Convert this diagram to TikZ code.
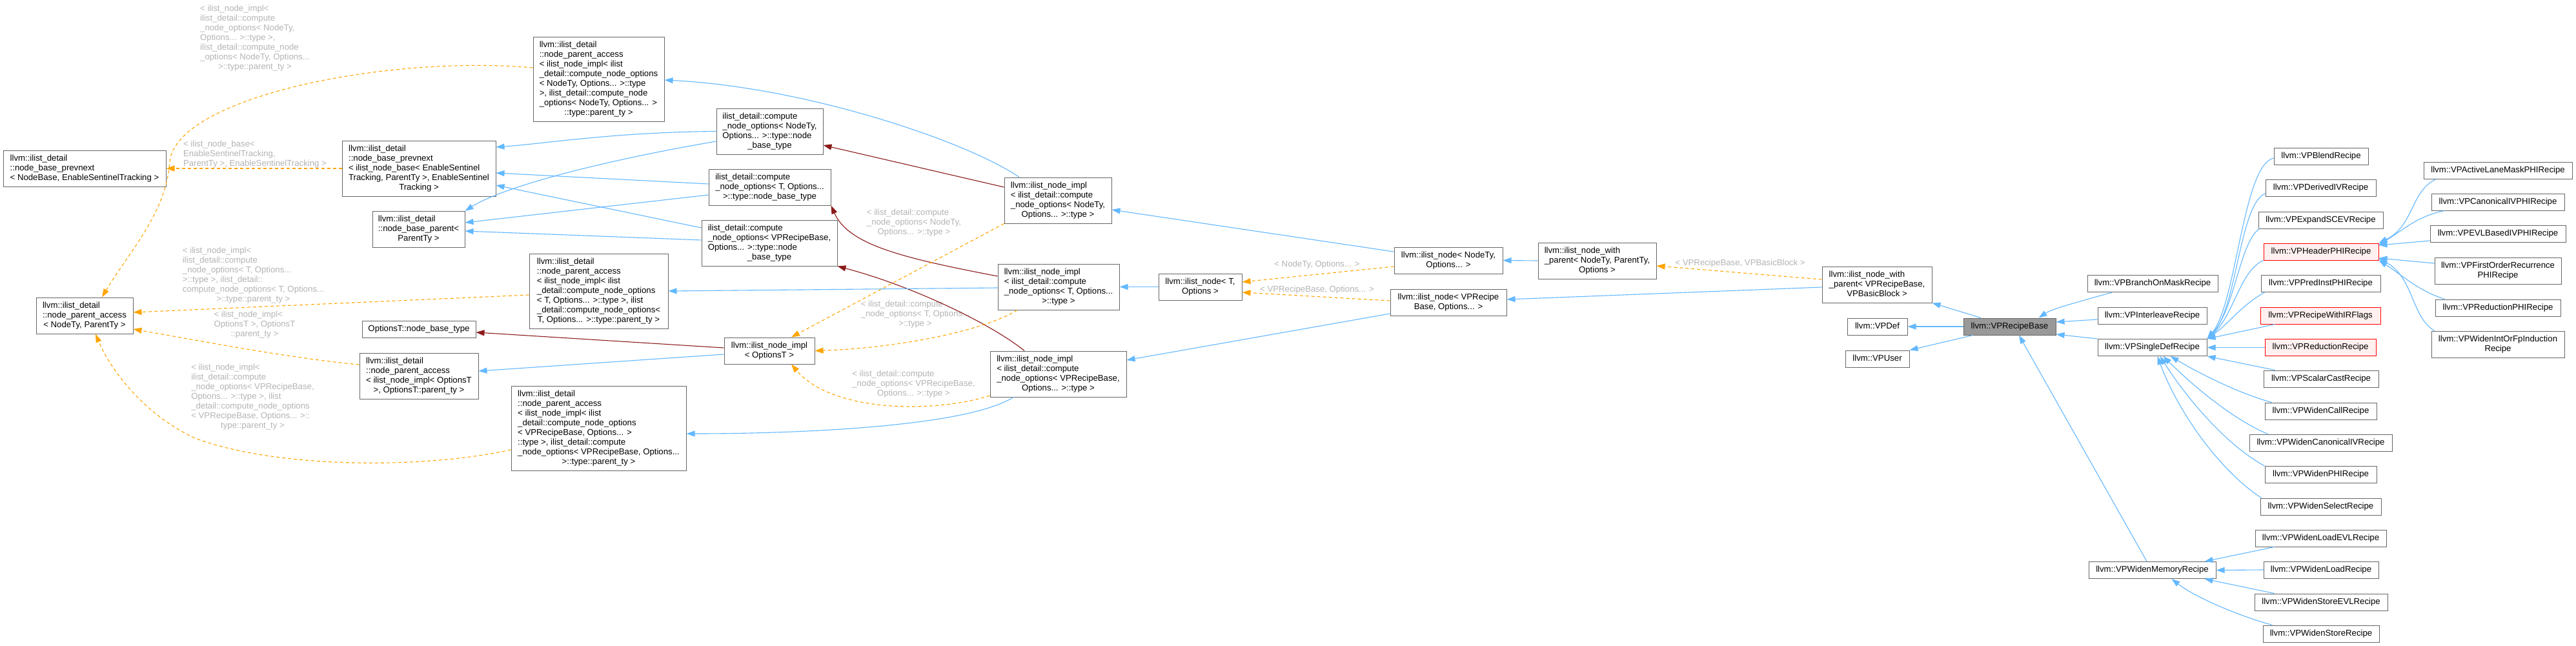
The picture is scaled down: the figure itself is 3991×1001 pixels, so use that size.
\documentclass[tikz,border=0pt]{standalone}
\usepackage{fontspec}
\setmainfont{Liberation Sans}
\usetikzlibrary{arrows.meta}
\definecolor{edgeblue}{HTML}{63B8FF}
\definecolor{edgeorange}{HTML}{FFA500}
\definecolor{edgered}{HTML}{8B1A1A}
\definecolor{boxline}{HTML}{666666}
\definecolor{basefill}{HTML}{999999}
\definecolor{redfill}{HTML}{FFF0F0}
\definecolor{labelgray}{HTML}{B4B4B4}
\newcommand{\dfont}{\fontsize{13.2}{15}\selectfont}
\newcommand{\doxl}[2]{\begin{tabular}{@{}l@{}}#1\\\multicolumn{1}{@{}c@{}}{#2}\end{tabular}}
\newcommand{\doxc}[1]{\begin{tabular}{@{}c@{}}#1\end{tabular}}

\begin{document}
\begin{tikzpicture}[x=1pt, y=-1pt,
  box/.style={draw=boxline, fill=white, line width=1pt, inner xsep=0pt, inner ysep=5.5pt, font=\dfont},
  redbox/.style={box, draw=red, fill=redfill},
  lbl/.style={font=\dfont, text=labelgray, inner sep=0pt},
  tip/.style={-{Triangle[length=13pt, width=9pt]}},
  inh/.style={tip, draw=edgeblue, line width=1.1pt},
  tmpl/.style={tip, draw=edgeorange, line width=1.1pt, dash pattern=on 5pt off 4pt},
  usage/.style={tip, draw=edgered, line width=1.1pt}]
  \path[use as bounding box, fill=white] (0,0) rectangle (3991,1001);

  % ilist detail classes
  \node[box, minimum width=252pt] (pvNB) at (131,261) {\doxl{llvm::ilist\_detail\\::node\_base\_prevnext}{< NodeBase, EnableSentinelTracking >}};
  \node[box, minimum width=238pt] (pvIB) at (649,261) {\doxl{llvm::ilist\_detail\\::node\_base\_prevnext\\< ilist\_node\_base< EnableSentinel\\Tracking, ParentTy >, EnableSentinel}{Tracking >}};
  \node[box, minimum width=143pt] (bparent) at (648.5,355.5) {\doxl{llvm::ilist\_detail\\::node\_base\_parent<}{ParentTy >}};
  \node[box, minimum width=150pt] (paNP) at (131,489) {\doxl{llvm::ilist\_detail\\::node\_parent\_access}{< NodeTy, ParentTy >}};
  \node[box, minimum width=176pt] (obt) at (649,510.5) {\doxc{OptionsT::node\_base\_type}};
  \node[box, minimum width=184pt] (paO) at (649,582.5) {\doxl{llvm::ilist\_detail\\::node\_parent\_access\\< ilist\_node\_impl< OptionsT}{>, OptionsT::parent\_ty >}};
  \node[box, minimum width=203pt] (paNT) at (927.5,122.5) {\doxl{llvm::ilist\_detail\\::node\_parent\_access\\< ilist\_node\_impl< ilist\\\_detail::compute\_node\_options\\< NodeTy, Options... >::type\\>, ilist\_detail::compute\_node\\\_options< NodeTy, Options... >}{::type::parent\_ty >}};
  \node[box, minimum width=215pt] (paT) at (927.5,451) {\doxl{llvm::ilist\_detail\\::node\_parent\_access\\< ilist\_node\_impl< ilist\\\_detail::compute\_node\_options\\< T, Options... >::type >, ilist\\\_detail::compute\_node\_options<}{T, Options... >::type::parent\_ty >}};
  \node[box, minimum width=271pt] (paVP) at (927.5,663.5) {\doxl{llvm::ilist\_detail\\::node\_parent\_access\\< ilist\_node\_impl< ilist\\\_detail::compute\_node\_options\\< VPRecipeBase, Options... >\\::type >, ilist\_detail::compute\\\_node\_options< VPRecipeBase, Options...}{>::type::parent\_ty >}};
  \node[box, minimum width=165pt] (nbNT) at (1192.5,203.5) {\doxl{ilist\_detail::compute\\\_node\_options< NodeTy,\\Options... >::type::node}{\_base\_type}};
  \node[box, minimum width=189pt] (nbT) at (1192.5,290) {\doxl{ilist\_detail::compute\\\_node\_options< T, Options...}{>::type::node\_base\_type}};
  \node[box, minimum width=210pt] (nbVP) at (1192,376.5) {\doxl{ilist\_detail::compute\\\_node\_options< VPRecipeBase,\\Options... >::type::node}{\_base\_type}};
  \node[box, minimum width=140pt] (implO) at (1192,543.5) {\doxl{llvm::ilist\_node\_impl}{< OptionsT >}};

  % ilist nodes
  \node[box, minimum width=166pt] (implNT) at (1639,310.5) {\doxl{llvm::ilist\_node\_impl\\< ilist\_detail::compute\\\_node\_options< NodeTy,}{Options... >::type >}};
  \node[box, minimum width=188pt] (implT) at (1640,444.5) {\doxl{llvm::ilist\_node\_impl\\< ilist\_detail::compute\\\_node\_options< T, Options...}{>::type >}};
  \node[box, minimum width=211pt] (implVP) at (1639.5,579.5) {\doxl{llvm::ilist\_node\_impl\\< ilist\_detail::compute\\\_node\_options< VPRecipeBase,}{Options... >::type >}};
  \node[box, minimum width=129pt] (nodeT) at (1859.5,444.5) {\doxl{llvm::ilist\_node< T,}{Options >}};
  \node[box, minimum width=168pt] (nodeNT) at (2244,403.5) {\doxl{llvm::ilist\_node< NodeTy,}{Options... >}};
  \node[box, minimum width=180pt] (nodeVP) at (2244,469) {\doxl{llvm::ilist\_node< VPRecipe}{Base, Options... >}};
  \node[box, minimum width=183pt] (nwpNT) at (2474.5,404) {\doxl{llvm::ilist\_node\_with\\\_parent< NodeTy, ParentTy,}{Options >}};
  \node[box, minimum width=170pt] (nwpVP) at (2908,441) {\doxl{llvm::ilist\_node\_with\\\_parent< VPRecipeBase,}{VPBasicBlock >}};

  % recipes
  \node[box, fill=basefill, minimum width=143pt] (base) at (3113.5,506) {\doxc{llvm::VPRecipeBase}};
  \node[box, minimum width=93pt] (vpdef) at (2908.5,506) {\doxc{llvm::VPDef}};
  \node[box, minimum width=99pt] (vpuser) at (2908.5,556) {\doxc{llvm::VPUser}};
  \node[box, minimum width=202pt] (branch) at (3335,439.5) {\doxc{llvm::VPBranchOnMaskRecipe}};
  \node[box, minimum width=169pt] (interleave) at (3334.5,489) {\doxc{llvm::VPInterleaveRecipe}};
  \node[box, minimum width=169pt] (single) at (3334.5,538.5) {\doxc{llvm::VPSingleDefRecipe}};
  \node[box, minimum width=197pt] (widenmem) at (3334.5,883.5) {\doxc{llvm::VPWidenMemoryRecipe}};
  \node[box, minimum width=146pt] (blend) at (3596,242) {\doxc{llvm::VPBlendRecipe}};
  \node[box, minimum width=171pt] (derived) at (3595.5,291.5) {\doxc{llvm::VPDerivedIVRecipe}};
  \node[box, minimum width=193pt] (expand) at (3595.5,341) {\doxc{llvm::VPExpandSCEVRecipe}};
  \node[redbox, minimum width=178pt] (header) at (3596,390) {\doxc{llvm::VPHeaderPHIRecipe}};
  \node[box, minimum width=185pt] (predinst) at (3595.5,439.5) {\doxc{llvm::VPPredInstPHIRecipe}};
  \node[redbox, minimum width=186pt] (irflags) at (3595,489) {\doxc{llvm::VPRecipeWithIRFlags}};
  \node[redbox, minimum width=172pt] (reduction) at (3595,538.5) {\doxc{llvm::VPReductionRecipe}};
  \node[box, minimum width=178pt] (scalarcast) at (3596,587) {\doxc{llvm::VPScalarCastRecipe}};
  \node[box, minimum width=173pt] (widencall) at (3595.5,637) {\doxc{llvm::VPWidenCallRecipe}};
  \node[box, minimum width=221pt] (widencaniv) at (3595.5,686) {\doxc{llvm::VPWidenCanonicalIVRecipe}};
  \node[box, minimum width=173pt] (widenphi) at (3595.5,735.5) {\doxc{llvm::VPWidenPHIRecipe}};
  \node[box, minimum width=187pt] (widenselect) at (3595.5,785) {\doxc{llvm::VPWidenSelectRecipe}};
  \node[box, minimum width=203pt] (loadevl) at (3595.5,834) {\doxc{llvm::VPWidenLoadEVLRecipe}};
  \node[box, minimum width=178pt] (load) at (3596,883) {\doxc{llvm::VPWidenLoadRecipe}};
  \node[box, minimum width=206pt] (storeevl) at (3596,933) {\doxc{llvm::VPWidenStoreEVLRecipe}};
  \node[box, minimum width=180pt] (store) at (3596,982) {\doxc{llvm::VPWidenStoreRecipe}};
  \node[box, minimum width=230pt] (activelane) at (3870,264) {\doxc{llvm::VPActiveLaneMaskPHIRecipe}};
  \node[box, minimum width=206pt] (canoniv) at (3870,313) {\doxc{llvm::VPCanonicalIVPHIRecipe}};
  \node[box, minimum width=210pt] (evl) at (3870,362) {\doxc{llvm::VPEVLBasedIVPHIRecipe}};
  \node[box, minimum width=196pt] (forphi) at (3870,419.5) {\doxl{llvm::VPFirstOrderRecurrence}{PHIRecipe}};
  \node[box, minimum width=194pt] (redphi) at (3870,477) {\doxc{llvm::VPReductionPHIRecipe}};
  \node[box, minimum width=206pt] (intorfp) at (3870,533.5) {\doxl{llvm::VPWidenIntOrFpInduction}{Recipe}};

  % template arguments
  \node[lbl] (l1) at (395,59) {\doxl{< ilist\_node\_impl<\\ilist\_detail::compute\\\_node\_options< NodeTy,\\Options... >::type >,\\ilist\_detail::compute\_node\\\_options< NodeTy, Options...}{>::type::parent\_ty >}};
  \node[lbl] (l2) at (395,239) {\doxl{< ilist\_node\_base<\\EnableSentinelTracking,}{ParentTy >, EnableSentinelTracking >}};
  \node[lbl] (l3) at (392.5,426.5) {\doxl{< ilist\_node\_impl<\\ilist\_detail::compute\\\_node\_options< T, Options...\\>::type >, ilist\_detail::\\compute\_node\_options< T, Options...}{>::type::parent\_ty >}};
  \node[lbl] (l4) at (394.5,503) {\doxl{< ilist\_node\_impl<\\OptionsT >, OptionsT}{::parent\_ty >}};
  \node[lbl] (l5) at (391.5,615) {\doxl{< ilist\_node\_impl<\\ilist\_detail::compute\\\_node\_options< VPRecipeBase,\\Options... >::type >, ilist\\\_detail::compute\_node\_options\\< VPRecipeBase, Options... >::}{type::parent\_ty >}};
  \node[lbl] (l6) at (1416,345) {\doxl{< ilist\_detail::compute\\\_node\_options< NodeTy,}{Options... >::type >}};
  \node[lbl] (l7) at (1418,487) {\doxl{< ilist\_detail::compute\\\_node\_options< T, Options...}{>::type >}};
  \node[lbl] (l8) at (1415.5,595) {\doxl{< ilist\_detail::compute\\\_node\_options< VPRecipeBase,}{Options... >::type >}};
  \node[lbl] (l9) at (2040.5,410) {\doxc{< NodeTy, Options... >}};
  \node[lbl] (l10) at (2040.5,449) {\doxc{< VPRecipeBase, Options... >}};
  \node[lbl] (l11) at (2696,408) {\doxc{< VPRecipeBase, VPBasicBlock >}};

  % left part
  \draw[tmpl] (pvIB.west) -- (pvNB.east);
  \draw[tmpl] ([yshift=17.5pt]paNT.west) .. controls (600,85) and (275,150) .. (263,250) .. controls (258,330) and (200,390) .. ([xshift=27pt]paNP.north);
  \draw[tmpl] ([yshift=-6pt]paT.west) -- ([yshift=5pt]paNP.east);
  \draw[tmpl] ([yshift=17.5pt]paO.west) .. controls (450,555) and (320,530) .. ([yshift=-21pt]paNP.east);
  \draw[tmpl] ([yshift=-33.5pt]paVP.west) .. controls (650,728) and (420,725) .. (300,678) .. controls (220,640) and (170,570) .. ([xshift=17pt]paNP.south);
  \draw[inh] (nbNT.west) .. controls (950,205) and (850,222) .. ([yshift=33pt]pvIB.east);
  \draw[inh] ([yshift=-15.5pt]nbNT.west) .. controls (900,255) and (770,295) .. (bparent.north east);
  \draw[inh] ([yshift=5pt]nbT.west) -- ([yshift=-7pt]pvIB.east);
  \draw[inh] ([yshift=-12pt]nbT.west) -- ([yshift=10.5pt]bparent.east);
  \draw[inh] ([yshift=23.5pt]nbVP.west) -- ([yshift=-26pt]pvIB.east);
  \draw[inh] ([yshift=4.5pt]nbVP.west) -- ([yshift=-2.5pt]bparent.east);

  % middle part
  \draw[inh] ([xshift=-60pt]implNT.north) .. controls (1500,220) and (1250,135) .. ([yshift=-1.5pt]paNT.east);
  \draw[usage] ([yshift=20.5pt]implNT.west) -- ([yshift=-21.5pt]nbNT.east);
  \draw[usage] ([yshift=16.5pt]implT.west) .. controls (1400,400) and (1315,380) .. (nbT.south east);
  \draw[usage] ([xshift=-52.5pt]implVP.north) .. controls (1540,505) and (1420,445) .. (nbVP.south east);
  \draw[inh] ([yshift=-1.5pt]implT.west) -- (paT.east);
  \draw[tmpl] (implNT.south west) -- ([xshift=34pt]implO.north);
  \draw[tmpl] ([xshift=-64pt]implT.south) .. controls (1520,515) and (1380,540) .. (implO.east);
  \draw[tmpl] ([yshift=-33.5pt]implVP.west) .. controls (1450,640) and (1290,640) .. ([xshift=34pt]implO.south);
  \draw[inh] ([xshift=-69.5pt]implVP.south) .. controls (1500,660) and (1250,672) .. ([yshift=-8.5pt]paVP.east);
  \draw[usage] ([yshift=4.5pt]implO.west) -- ([yshift=-4.5pt]obt.east);
  \draw[inh] ([yshift=-5.5pt]implO.west) -- ([yshift=7.5pt]paO.east);
  \draw[inh] ([yshift=13.5pt]nodeNT.west) -- ([yshift=-14.5pt]implNT.east);
  \draw[tmpl] ([yshift=-9.5pt]nodeNT.west) -- ([yshift=7.5pt]nodeT.east);
  \draw[tmpl] ([yshift=3pt]nodeVP.west) -- ([yshift=-8.5pt]nodeT.east);
  \draw[inh] (nodeT.west) -- (implT.east);
  \draw[inh] ([yshift=-17pt]nodeVP.west) -- ([yshift=21.5pt]implVP.east);
  \draw[inh] (nwpNT.west) -- (nodeNT.east);
  \draw[tmpl] ([yshift=8pt]nwpVP.west) -- ([yshift=-8pt]nwpNT.east);
  \draw[inh] ([yshift=-4pt]nwpVP.west) -- ([yshift=5pt]nodeVP.east);

  % right part
  \draw[inh] ([xshift=-44.5pt]base.north) -- (nwpVP.south east);
  \draw[inh] (base.west) -- (vpdef.east);
  \draw[inh] ([xshift=15pt]base.south west) -- (vpuser.north east);
  \draw[inh] ([xshift=39pt]branch.south west) .. controls (3230,465) and (3180,478) .. ([xshift=-27pt]base.north east);
  \draw[inh] ([yshift=-6pt]interleave.west) -- ([yshift=7pt]base.east);
  \draw[inh] ([yshift=13.5pt]single.west) -- ([yshift=-12pt]base.east);
  \draw[inh] ([xshift=-8.5pt]widenmem.north) -- ([xshift=14.5pt]base.south);

  \draw[inh] ([yshift=-3pt]blend.west) .. controls (3475,255) and (3465,470) .. (single.north east);
  \draw[inh] ([yshift=-8.5pt]derived.west) .. controls (3470,315) and (3465,480) .. (single.north east);
  \draw[inh] ([xshift=2pt]expand.south west) .. controls (3470,375) and (3462,480) .. (single.north east);
  \draw[inh] (header.south west) .. controls (3470,420) and (3460,490) .. (single.north east);
  \draw[inh] ([xshift=6pt]predinst.south west) .. controls (3470,475) and (3455,500) .. (single.north east);
  \draw[inh] ([xshift=23pt]irflags.south west) -- (single.north east);
  \draw[inh] (reduction.west) -- (single.east);
  \draw[inh] ([xshift=18pt]scalarcast.north west) -- (single.south east);
  \draw[inh] ([xshift=11pt]widencall.north west) .. controls (3470,610) and (3410,580) .. ([xshift=28pt]single.south);
  \draw[inh] ([xshift=29pt]widencaniv.north west) .. controls (3460,650) and (3400,600) .. ([xshift=17pt]single.south);
  \draw[inh] (widenphi.north west) .. controls (3450,690) and (3390,620) .. ([xshift=12pt]single.south);
  \draw[inh] ([xshift=2pt]widenselect.north west) .. controls (3440,730) and (3375,640) .. ([xshift=8pt]single.south);

  \draw[inh] ([xshift=20pt]activelane.south west) .. controls (3735,295) and (3740,350) .. (header.north east);
  \draw[inh] ([xshift=21pt]canoniv.south west) .. controls (3745,335) and (3725,355) .. ([yshift=-3pt]header.north east);
  \draw[inh] ([yshift=-11pt]evl.west) -- ([yshift=10pt]header.east);
  \draw[inh] ([yshift=11.5pt]forphi.west) -- ([yshift=-10pt]header.east);
  \draw[inh] ([xshift=15pt]redphi.north west) .. controls (3745,450) and (3720,425) .. (header.south east);
  \draw[inh] ([xshift=5pt]intorfp.north west) .. controls (3735,490) and (3740,430) .. ([yshift=3pt]header.south east);

  \draw[inh] ([xshift=30pt]loadevl.south west) -- ([xshift=-18pt]widenmem.north east);
  \draw[inh] (load.west) -- (widenmem.east);
  \draw[inh] ([xshift=31pt]storeevl.north west) -- ([xshift=-18pt]widenmem.south east);
  \draw[inh] ([xshift=15pt]store.north west) .. controls (3470,955) and (3400,925) .. ([xshift=30pt]widenmem.south);
\end{tikzpicture}
\end{document}
